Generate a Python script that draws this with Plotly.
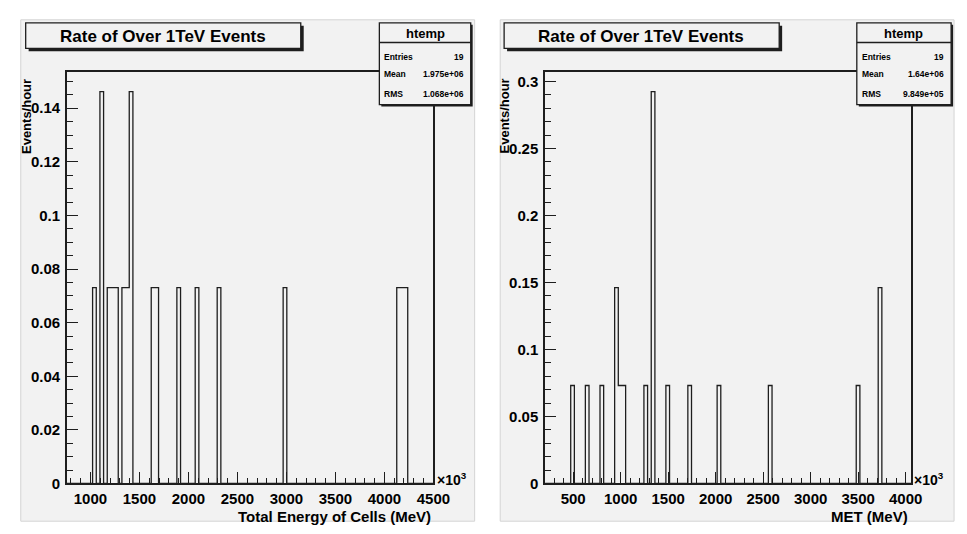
import plotly.graph_objects as go

# ---------------- data (energies in units of 10^3 MeV) ----------------
rate_unit = 0.0731          # events/hour contributed by one entry

# left histogram: Total Energy of Cells
left_xmin, left_xmax, left_nbins = 760.0, 4500.0, 100
left_energy = [1040, 1115, 1190, 1228, 1265, 1340, 1377, 1415, 1639, 1676,
               1901, 2088, 2312, 2985, 4145, 4182, 4220]
left_rate = [0.0731, 0.1462, 0.0731, 0.0731, 0.0731, 0.0731, 0.0731, 0.1462,
             0.0731, 0.0731, 0.0731, 0.0731, 0.0731, 0.0731, 0.0731, 0.0731, 0.0731]
left_xticks = [1000, 1500, 2000, 2500, 3000, 3500, 4000, 4500]
left_yticks = [0, 0.02, 0.04, 0.06, 0.08, 0.1, 0.12, 0.14]
left_yticktext = ["0", "0.02", "0.04", "0.06", "0.08", "0.1", "0.12", "0.14"]
left_stats = [("Entries", "19"), ("Mean", "1.975e+06"), ("RMS", "1.068e+06")]

# right histogram: MET
right_xmin, right_xmax, right_nbins = 204.3, 4057.0, 100
right_energy = [493, 647, 802, 956, 994, 1033, 1264, 1341, 1495, 1726,
                2035, 2574, 3499, 3730]
right_rate = [0.0731, 0.0731, 0.0731, 0.1462, 0.0731, 0.0731, 0.0731, 0.2924,
              0.0731, 0.0731, 0.0731, 0.0731, 0.0731, 0.1462]
right_xticks = [500, 1000, 1500, 2000, 2500, 3000, 3500, 4000]
right_yticks = [0, 0.05, 0.1, 0.15, 0.2, 0.25, 0.3]
right_yticktext = ["0", "0.05", "0.1", "0.15", "0.2", "0.25", "0.3"]
right_stats = [("Entries", "19"), ("Mean", "1.64e+06"), ("RMS", "9.849e+05")]

title_text = "Rate of Over 1TeV Events"
left_xtitle = "Total Energy of Cells (MeV)"
right_xtitle = "MET (MeV)"
ytitle = "Events/hour"

# ---------------- helpers ----------------
W, H = 967, 534
FONT = "Liberation Sans, Arial, Helvetica, sans-serif"
LC = "#1e1e1e"


def px(x):
    return x / W


def py(y):
    return 1 - y / H


def step_outline(xmin, xmax, nbins, energies, rates):
    bw = (xmax - xmin) / nbins
    h = [0.0] * nbins
    for e, r in zip(energies, rates):
        h[int((e - xmin) // bw)] = r
    xs = [xmin + i * bw for i in range(nbins + 1)]
    ys = h + [0.0]
    return xs, ys


fig = go.Figure()

lx, ly = step_outline(left_xmin, left_xmax, left_nbins, left_energy, left_rate)
rx, ry = step_outline(right_xmin, right_xmax, right_nbins, right_energy, right_rate)

fig.add_trace(go.Scatter(x=lx, y=ly, mode="lines", line=dict(shape="hv", color=LC, width=1.3),
                         xaxis="x", yaxis="y", showlegend=False, hoverinfo="skip"))
fig.add_trace(go.Scatter(x=rx, y=ry, mode="lines", line=dict(shape="hv", color=LC, width=1.3),
                         xaxis="x2", yaxis="y2", showlegend=False, hoverinfo="skip"))

ydom = [py(482.7), py(65)]
tickfont = dict(family=FONT, size=15, color="black", weight="bold")


def xaxis_cfg(dom, rng, ticks):
    return dict(domain=dom, range=rng, tickmode="array", tickvals=ticks,
                ticktext=[str(t) for t in ticks], ticks="inside", ticklen=12,
                tickwidth=1.2, tickcolor=LC, showline=True, linecolor=LC,
                linewidth=1.6, mirror=True, showgrid=False, zeroline=False,
                tickfont=tickfont, ticklabelstandoff=1,
                minor=dict(ticks="inside", ticklen=6, tickwidth=1.1, tickcolor=LC,
                           dtick=100, tick0=0, showgrid=False))


def yaxis_cfg(rng, ticks, text, minor_dt, anchor):
    return dict(domain=ydom, range=rng, anchor=anchor, tickmode="array", tickvals=ticks,
                ticktext=text, ticks="inside", ticklen=11, tickwidth=1.2,
                tickcolor=LC, showline=True, linecolor=LC, linewidth=1.6,
                mirror=True, showgrid=False, zeroline=False, tickfont=tickfont,
                ticklabelstandoff=2,
                minor=dict(ticks="inside", ticklen=6, tickwidth=1.1, tickcolor=LC,
                           dtick=minor_dt, tick0=0, showgrid=False))


left_ymax = max(left_rate) * 1.05
right_ymax = max(right_rate) * 1.05

fig.update_layout(
    width=W, height=H,
    margin=dict(l=0, r=0, t=0, b=0),
    paper_bgcolor="white",
    plot_bgcolor="#f2f2f2",
    showlegend=False,
    xaxis=dict(**xaxis_cfg([px(60), px(433)], [left_xmin, left_xmax], left_xticks), anchor="y"),
    yaxis=yaxis_cfg([0, left_ymax], left_yticks, left_yticktext, 0.005, "x"),
    xaxis2=dict(**xaxis_cfg([px(546.7), px(919.3)], [right_xmin, right_xmax], right_xticks), anchor="y2"),
    yaxis2=yaxis_cfg([0, right_ymax], right_yticks, right_yticktext, 0.01, "x2"),
)

shapes = []
annotations = []


def rect(x0, y0, x1, y1, fill, line_color=None, lw=0, layer="above"):
    shapes.append(dict(type="rect", xref="paper", yref="paper",
                       x0=px(x0), x1=px(x1), y0=py(y1), y1=py(y0),
                       fillcolor=fill, layer=layer,
                       line=dict(color=line_color or fill, width=lw)))


def text(x, y, s, size, anchor="center", bold=True, angle=0):
    annotations.append(dict(xref="paper", yref="paper", x=px(x), y=py(y),
                            text=s, showarrow=False, xanchor=anchor, yanchor="middle",
                            textangle=angle,
                            font=dict(family=FONT, size=size, color="black",
                                      weight="bold" if bold else "normal")))


# pads
rect(13, 12, 475, 521, "#f2f2f2", "#d4d4d4", 1, layer="below")
rect(501, 12, 963, 521, "#f2f2f2", "#d4d4d4", 1, layer="below")

panels = [
    dict(tb=(18, 15, 298, 41), tx=157.5, sb=(378, 15, 471, 98), stats=left_stats,
         yt=19, xt_right=433, xt=left_xtitle, e=435),
    dict(tb=(505, 15, 785, 41), tx=644, sb=(864, 15, 960, 98), stats=right_stats,
         yt=505, xt_right=918, xt=right_xtitle, e=920),
]

for p in panels:
    x0, y0, x1, y1 = p["tb"]
    rect(x0 + 3, y0 + 3, x1 + 3, y1 + 3, LC)
    rect(x0, y0, x1, y1, "#f2f2f2", LC, 1.3)
    text(p["tx"], (y0 + y1) / 2 + 1, title_text, 17)
    sx0, sy0, sx1, sy1 = p["sb"]
    rect(sx0 + 2, sy0 + 2, sx1 + 2, sy1 + 2, LC)
    rect(sx0, sy0, sx1, sy1, "#f2f2f2", LC, 1.3)
    shapes.append(dict(type="line", xref="paper", yref="paper", x0=px(sx0), x1=px(sx1),
                       y0=py(35), y1=py(35), line=dict(color=LC, width=1.3), layer="above"))
    text((sx0 + sx1) / 2, 25.5, "htemp", 13)
    for (lab, val), yy in zip(p["stats"], [50, 67.5, 87.5]):
        text(sx0 + 3, yy, lab, 8.5, anchor="left")
        text(sx1 - 5, yy, val, 8.5, anchor="right")
    text(p["yt"], 110, ytitle, 13, angle=-90)
    text(p["xt_right"], 516, p["xt"], 15, anchor="right")
    text(p["e"], 478, "×10<sup>3</sup>", 14, anchor="left")

fig.update_layout(shapes=shapes, annotations=annotations)
fig.write_html("out.html")
